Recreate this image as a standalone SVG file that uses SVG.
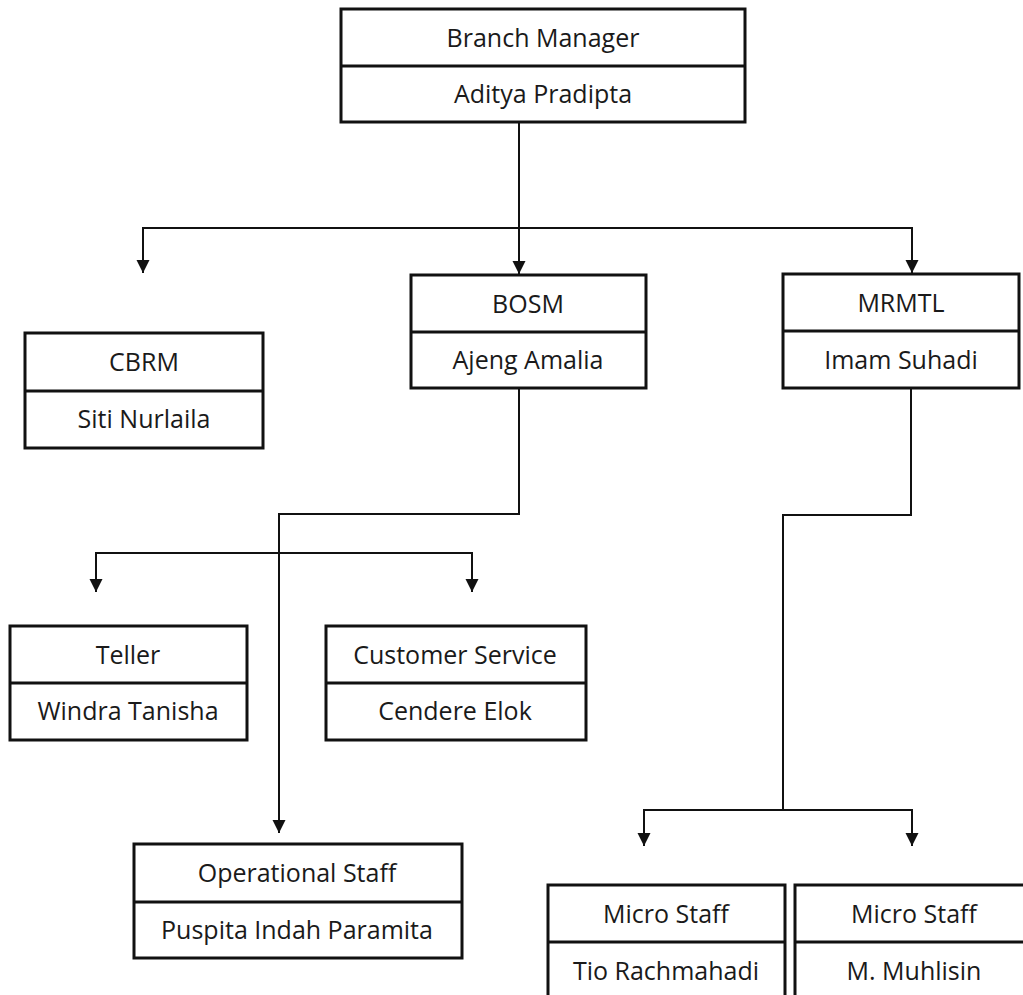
<svg xmlns="http://www.w3.org/2000/svg" width="1023" height="995" viewBox="0 0 1023 995">
<style>
.box{fill:#fff;stroke:#111;stroke-width:3}
.div{stroke:#111;stroke-width:3}
.t{font-family:"Open Sans","Liberation Sans",sans-serif;font-size:25px;fill:#1a1a1a;text-anchor:middle}
.c{fill:none;stroke:#111;stroke-width:2}
</style>
<defs>
<marker id="ah" markerUnits="userSpaceOnUse" markerWidth="14" markerHeight="14" refX="13" refY="7" orient="auto">
<path d="M0,0.5 L13,7 L0,13.5 z" fill="#111"/>
</marker>
</defs>
<rect width="1023" height="995" fill="#fff"/>
<g id="connectors">
<path class="c" d="M519,122 V274" marker-end="url(#ah)"/>
<path class="c" d="M519,228 H143 V273" marker-end="url(#ah)"/>
<path class="c" d="M519,228 H912 V273" marker-end="url(#ah)"/>
<path class="c" d="M519,388 V514 H279 V833" marker-end="url(#ah)"/>
<path class="c" d="M279,553 H96 V592" marker-end="url(#ah)"/>
<path class="c" d="M279,553 H472 V592" marker-end="url(#ah)"/>
<path class="c" d="M911,388 V515 H783 V810"/>
<path class="c" d="M783,810 H644 V846" marker-end="url(#ah)"/>
<path class="c" d="M783,810 H912 V846" marker-end="url(#ah)"/>
</g>
<g id="branch-manager">
<rect class="box" x="341" y="9" width="404" height="113"/>
<line class="div" x1="341" y1="66" x2="745" y2="66"/>
<text class="t" x="543" y="47">Branch Manager</text>
<text class="t" x="543" y="103">Aditya Pradipta</text>
</g>
<g id="cbrm">
<rect class="box" x="25" y="333" width="238" height="115"/>
<line class="div" x1="25" y1="391" x2="263" y2="391"/>
<text class="t" x="144" y="371">CBRM</text>
<text class="t" x="144" y="428">Siti Nurlaila</text>
</g>
<g id="bosm">
<rect class="box" x="411" y="275" width="235" height="113"/>
<line class="div" x1="411" y1="332" x2="646" y2="332"/>
<text class="t" x="528" y="313">BOSM</text>
<text class="t" x="528" y="369">Ajeng Amalia</text>
</g>
<g id="mrmtl">
<rect class="box" x="783" y="274" width="236" height="114"/>
<line class="div" x1="783" y1="331" x2="1019" y2="331"/>
<text class="t" x="901" y="312">MRMTL</text>
<text class="t" x="901" y="369">Imam Suhadi</text>
</g>
<g id="teller">
<rect class="box" x="10" y="626" width="237" height="114"/>
<line class="div" x1="10" y1="683" x2="247" y2="683"/>
<text class="t" x="128" y="664">Teller</text>
<text class="t" x="128" y="720">Windra Tanisha</text>
</g>
<g id="customer-service">
<rect class="box" x="326" y="626" width="260" height="114"/>
<line class="div" x1="326" y1="683" x2="586" y2="683"/>
<text class="t" x="455" y="664">Customer Service</text>
<text class="t" x="455" y="720">Cendere Elok</text>
</g>
<g id="operational-staff">
<rect class="box" x="134" y="844" width="328" height="114"/>
<line class="div" x1="134" y1="902" x2="462" y2="902"/>
<text class="t" x="297" y="882">Operational Staff</text>
<text class="t" x="297" y="939">Puspita Indah Paramita</text>
</g>
<g id="micro-staff-1">
<rect class="box" x="548" y="885" width="237" height="120"/>
<line class="div" x1="548" y1="942" x2="785" y2="942"/>
<text class="t" x="666" y="923">Micro Staff</text>
<text class="t" x="666" y="980">Tio Rachmahadi</text>
</g>
<g id="micro-staff-2">
<rect class="box" x="795" y="885" width="238" height="120"/>
<line class="div" x1="795" y1="942" x2="1033" y2="942"/>
<text class="t" x="914" y="923">Micro Staff</text>
<text class="t" x="914" y="980">M. Muhlisin</text>
</g>
</svg>
